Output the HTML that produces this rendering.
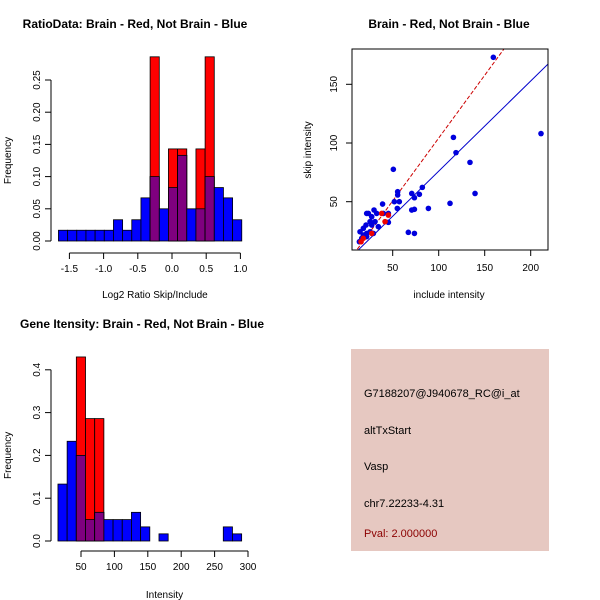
<!DOCTYPE html>
<html><head><meta charset="utf-8"><style>
body{margin:0;background:#fff}
svg{display:block;font-family:"Liberation Sans",sans-serif}
</style></head><body>
<svg id="s" width="600" height="600" xmlns="http://www.w3.org/2000/svg">
<rect width="600" height="600" fill="#fff"/>
</svg>
<script>
// Ratio histogram data
const ratioBlue=[0.0167,0.0167,0.0167,0.0167,0.0167,0.0167,0.033,0.0167,0.033,0.067,0.10,0.05,0.083,0.133,0.05,0.05,0.10,0.083,0.067,0.033];
const ratioRed=[0,0,0,0,0,0,0,0,0,0,0.286,0,0.143,0.143,0,0.143,0.286,0,0,0];
const ratioStart=-1.66, ratioWidth=0.134;
const ratioXTicks=[-1.5,-1.0,-0.5,0.0,0.5,1.0];
const ratioYTicks=[0,0.05,0.10,0.15,0.20,0.25];
// Intensity histogram data
const intBlue=[0.133,0.233,0.2,0.05,0.067,0.05,0.05,0.05,0.067,0.033,0,0.0167,0,0,0,0,0,0,0.033,0.0167];
const intRed=[0,0,0.43,0.286,0.286,0,0,0,0,0,0,0,0,0,0,0,0,0,0,0];
const intStart=15.5, intWidth=13.75;
const intXTicks=[50,100,150,200,250,300];
const intYTicks=[0,0.1,0.2,0.3,0.4];
// Scatter data
const blueX=[159.4,211.2,116,118.8,134,139.5,112.3,88.8,50.7,82.2,79,70.7,73.6,73.6,70.7,55.4,55.4,57.2,51.8,55,67,73.6,39,45.3,45.3,39.9,32.6,29.7,23.6,21.7,27.2,34.4,25.4,18.1,14.5,18.1,21.7,16.3,13.8,21.7,25.4,27.2,30.8,21,18.1,29];
const blueY=[173,108,104.8,91.8,83.5,57,48.6,44.3,77.6,62.2,56.3,57,53.4,43.5,42.9,58.5,55.7,50,50,44.3,23.9,23,48,40,32.4,40,40,42.9,40,40,37.2,28.7,33,27.3,24.4,21.6,20.2,18.8,15.9,23,24.4,30.1,33,30.1,20.2,23];
const redX=[38,41.7,45.3,27.2,18,15.6];
const redY=[40,33,38.6,23,18.8,15.9];
const redLine=[-2.8,1.07]; // intercept, slope
const blueLine=[-0.8,0.768];
const scXTicks=[50,100,150,200];
const scYTicks=[50,100,150];

const NS="http://www.w3.org/2000/svg";
const svg=document.getElementById('s');
function mk(tag,attrs,parent){const e=document.createElementNS(NS,tag);for(const k in attrs)e.setAttribute(k,attrs[k]);(parent||svg).appendChild(e);return e;}
function txt(x,y,s,opts,parent){const t=mk('text',Object.assign({x:x,y:y,'font-size':10,'text-anchor':'middle',fill:'#000'},opts||{}),parent);t.textContent=s;return t;}

function hist(g,blue,red,start,width,sx,sy,xt,yt,xAxisY,yAxisX,title,tx,ty,xlabel,xly,ylabelX,fmtY,fmtX){
  for(let i=0;i<blue.length;i++){
    const x0=sx(start+i*width),x1=sx(start+(i+1)*width);
    const b=blue[i],r=red[i];
    if(b>0){const e=mk('rect',{x:x0,y:sy(b),width:x1-x0,height:sy(0)-sy(b),fill:'#0000ff',stroke:'#000','stroke-width':0.8},g);
      }
    if(r>0){const e=mk('rect',{x:x0,y:sy(r),width:x1-x0,height:sy(0)-sy(r),fill:'#ff0000',stroke:'#000','stroke-width':0.8},g);
      
      const m=Math.min(b,r);
      if(m>0){const p=mk('rect',{x:x0,y:sy(m),width:x1-x0,height:sy(0)-sy(m),fill:'#7f007f',stroke:'#000','stroke-width':0.8},g);
        }}
  }
  const xa=mk('g',{},g);
  mk('line',{x1:sx(xt[0]),x2:sx(xt[xt.length-1]),y1:xAxisY,y2:xAxisY,stroke:'#000'},xa);
  xt.forEach(v=>{mk('line',{x1:sx(v),x2:sx(v),y1:xAxisY,y2:xAxisY+6,stroke:'#000'},xa);
    txt(sx(v),xAxisY+19,v.toFixed(fmtX),{},xa);});
  const ya=mk('g',{},g);
  mk('line',{x1:yAxisX,x2:yAxisX,y1:sy(yt[0]),y2:sy(yt[yt.length-1]),stroke:'#000'},ya);
  yt.forEach(v=>{mk('line',{x1:yAxisX,x2:yAxisX-6,y1:sy(v),y2:sy(v),stroke:'#000'},ya);
    const t=txt(yAxisX-11,sy(v),v.toFixed(fmtY),{transform:`rotate(-90 ${yAxisX-11} ${sy(v)})`},ya);});
  txt(tx,ty,title,{'font-size':12,'font-weight':'bold'},g);
  txt((sx(xt[0])+sx(xt[xt.length-1]))/2,xly,xlabel,{},g);
  const cy=(sy(yt[0])+sy(yt[yt.length-1]))/2;
  txt(ylabelX,cy,'Frequency',{transform:`rotate(-90 ${ylabelX} ${cy})`},g);
}

// Panel 1
const g1=mk('g',{});
hist(g1,ratioBlue,ratioRed,ratioStart,ratioWidth,v=>172+(v)*68.4,v=>241-v*644,ratioXTicks,ratioYTicks,253,51,'RatioData: Brain - Red, Not Brain - Blue',135,28,'Log2 Ratio Skip/Include',298,11,2,1);
// Panel 3
const g3=mk('g',{});
hist(g3,intBlue,intRed,intStart,intWidth,v=>81+(v-50)*0.668,v=>541-v*428,intXTicks,intYTicks,551,51,'Gene Itensity: Brain - Red, Not Brain - Blue',142,328,'Intensity',598,11,1,0);

// Panel 2 scatter
const g2=mk('g',{});
const X=v=>392.7+(v-50)*0.92, Y=v=>201.7-(v-50)*1.174;
const clip=mk('clipPath',{id:'c'},g2);mk('rect',{x:352,y:49,width:196,height:201},clip);
const lines=mk('g',{'clip-path':'url(#c)'},g2);
[[redLine,'#cc0000','4,2'],[blueLine,'#0000cc',null]].forEach(([l,c,d])=>{
  const e=mk('line',{x1:X(0),y1:Y(l[0]),x2:X(240),y2:Y(l[0]+l[1]*240),stroke:c,'stroke-width':1},lines);
  if(d)e.setAttribute('stroke-dasharray',d);
  });
blueX.forEach((v,i)=>{const c=mk('circle',{cx:X(v),cy:Y(blueY[i]),r:2.8,fill:'#0000dd'},g2);
  });
redX.forEach((v,i)=>{const c=mk('circle',{cx:X(v),cy:Y(redY[i]),r:2.8,fill:'#ee0000'},g2);
  });
const box=mk('rect',{x:352,y:49,width:196,height:201,fill:'none',stroke:'#000'},g2);

scXTicks.forEach(v=>{mk('line',{x1:X(v),x2:X(v),y1:250,y2:256,stroke:'#000'},g2);txt(X(v),271,String(v),{},g2);});
scYTicks.forEach(v=>{mk('line',{x1:352,x2:346,y1:Y(v),y2:Y(v),stroke:'#000'},g2);txt(337,Y(v),String(v),{transform:`rotate(-90 337 ${Y(v)})`},g2);});
txt(449,28,'Brain - Red, Not Brain - Blue',{'font-size':12,'font-weight':'bold'},g2);
txt(449,298,'include intensity',{},g2);
txt(311,150,'skip intensity',{transform:'rotate(-90 311 150)'},g2);

// Panel 4 info
const g4=mk('g',{});
mk('rect',{x:351,y:349,width:198,height:202,fill:'#e6c8c1'},g4);
[['G7188207@J940678_RC@i_at',397,'#000','probe-id'],['altTxStart',434,'#000','event-type'],['Vasp',470,'#000','gene-name'],['chr7.22233-4.31',507,'#000','location'],['Pval: 2.000000',537,'#8b0000','p-value']].forEach(([s,y,c,n])=>{
  txt(364,y,s,{'text-anchor':'start',fill:c,'font-size':11},g4);});
</script>
</body></html>
